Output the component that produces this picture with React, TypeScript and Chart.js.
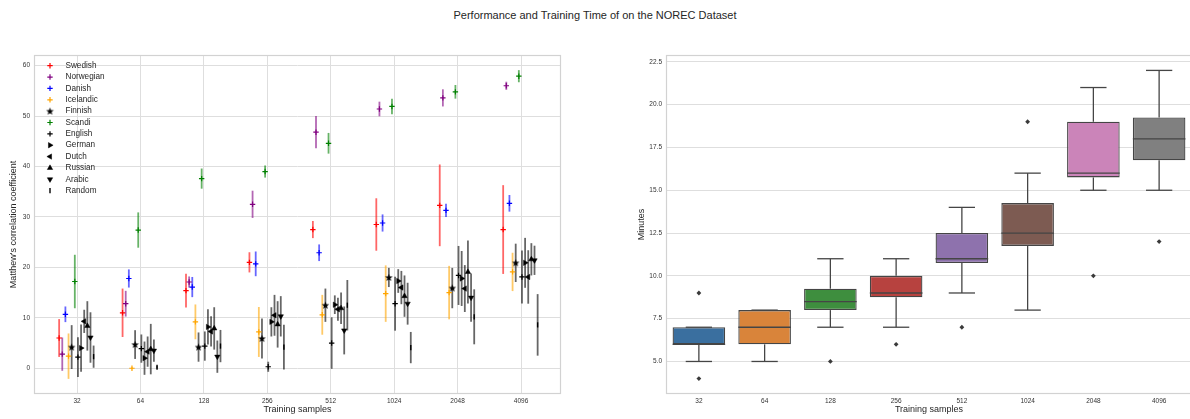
import React, { useEffect, useRef } from 'react';
import { Chart, registerables } from 'chart.js';
import { drawPoint } from 'chart.js/helpers';

Chart.register(...registerables);

// ---------- data ----------
const samples = ['32', '64', '128', '256', '512', '1024', '2048', '4096'];
const sampleLog2 = [5, 6, 7, 8, 9, 10, 11, 12];
const mccTicks = [0, 10, 20, 30, 40, 50, 60];
const minuteTicks = [5, 7.5, 10, 12.5, 15, 17.5, 20, 22.5];

const swedishMcc = [6.0, 11.0, 15.4, 21.0, 27.5, 28.5, 32.3, 27.5];
const swedishErr = [3.75, 4.8, 3.35, 2.0, 1.7, 5.2, 8.1, 8.8];
const norwegianMcc = [2.8, 12.8, 17.1, 32.5, 46.8, 51.4, 53.6, 56.0];
const norwegianErr = [3.3, 2.55, 1.1, 2.7, 3.2, 1.45, 1.7, 0.8];
const danishMcc = [10.7, 17.8, 16.1, 20.7, 22.9, 28.8, 31.3, 32.7];
const danishErr = [1.55, 1.8, 2.0, 2.45, 1.65, 1.7, 1.3, 1.65];
const icelandicMcc = [2.4, 0.0, 9.2, 7.2, 10.6, 14.8, 15.0, 19.1];
const icelandicErr = [4.5, 0.2, 3.45, 4.95, 3.95, 5.6, 5.3, 3.8];
const finnishMcc = [4.2, 4.7, 4.2, 5.9, 12.5, 18.0, 15.9, 20.9];
const finnishErr = [4.35, 2.85, 2.9, 3.95, 3.3, 1.9, 4.0, 3.8];
const scandiMcc = [17.2, 27.4, 37.6, 39.0, 44.6, 51.9, 54.8, 57.9];
const scandiErr = [5.3, 3.5, 2.0, 1.2, 2.05, 1.55, 1.35, 1.2];
const englishMcc = [2.2, 3.9, 4.4, 0.3, 5.0, 12.8, 18.4, 18.1];
const englishErr = [3.95, 2.8, 2.9, 1.0, 5.1, 5.35, 5.85, 5.25];
const germanMcc = [4.0, 2.0, 8.2, 9.2, 12.6, 17.3, 17.8, 20.9];
const germanErr = [4.7, 3.3, 3.5, 2.9, 1.85, 2.35, 5.45, 4.95];
const dutchMcc = [9.3, 3.3, 7.3, 10.5, 11.7, 16.0, 15.8, 18.1];
const dutchErr = [2.3, 3.0, 3.0, 4.05, 2.3, 3.3, 4.65, 5.3];
const russianMcc = [8.4, 3.8, 7.9, 8.7, 11.9, 14.3, 19.1, 21.6];
const russianErr = [4.9, 5.0, 4.2, 4.6, 3.1, 4.1, 6.25, 3.2];
const arabicMcc = [6.1, 3.5, 2.3, 10.3, 7.5, 12.8, 14.0, 21.4];
const arabicErr = [5.0, 2.2, 3.2, 4.0, 4.75, 4.15, 4.8, 2.9];
const randomMcc = [2.3, 0.2, 4.4, 4.2, 12.5, 4.1, 10.2, 8.6];
const randomErr = [2.2, 0.3, 3.2, 4.45, 5.0, 3.1, 5.45, 6.1];

const boxQ1 = [6, 6, 8, 8.75, 10.75, 11.75, 15.75, 16.75];
const boxQ3 = [7, 8, 9.25, 10, 12.5, 14.25, 19, 19.25];
const boxMedian = [6, 7, 8.5, 9, 11, 12.5, 16, 18];
const whiskerLow = [5, 5, 7, 7, 9, 8, 15, 15];
const whiskerHigh = [7, 8, 11, 11, 14, 16, 21, 22];
const outlierSample = ['32', '32', '128', '256', '512', '1024', '2048', '4096'];
const outlierMinutes = [9, 4, 5, 6, 7, 19, 10, 12];
const boxColors = ['#3a6f9f', '#d9843a', '#3e8e3e', '#b7423f', '#8e72ad', '#7d5b52', '#cb84b9', '#808080'];

const FONT = "'Liberation Sans', Arial, Helvetica, sans-serif";
const DODGE = 0.0494;
const GRID = '#dedede';
const FRAME = '#d2d2d2';

function makeStar(): HTMLCanvasElement {
  const c = document.createElement('canvas');
  c.width = 9;
  c.height = 9;
  const g = c.getContext('2d')!;
  g.fillStyle = '#000';
  g.beginPath();
  for (let k = 0; k < 10; k++) {
    const r = k % 2 === 0 ? 4.0 : 1.7;
    const a = -Math.PI / 2 + (k * Math.PI) / 5;
    const px = 4.5 + r * Math.cos(a);
    const py = 4.8 + r * Math.sin(a);
    if (k === 0) g.moveTo(px, py);
    else g.lineTo(px, py);
  }
  g.closePath();
  g.fill();
  return c;
}

const errorBarPlugin = {
  id: 'errorBars',
  beforeDatasetsDraw(chart: any) {
    const { ctx } = chart;
    const ys = chart.scales.y;
    chart.data.datasets.forEach((ds: any, i: number) => {
      const meta = chart.getDatasetMeta(i);
      ctx.save();
      ctx.strokeStyle = ds.pointBorderColor;
      ctx.globalAlpha = 0.6;
      ctx.lineWidth = 1.8;
      meta.data.forEach((pt: any, j: number) => {
        const m = ds.data[j].y;
        const e = ds.errors[j];
        ctx.beginPath();
        ctx.moveTo(pt.x, ys.getPixelForValue(m - e));
        ctx.lineTo(pt.x, ys.getPixelForValue(m + e));
        ctx.stroke();
      });
      ctx.restore();
    });
  },
};

const framePlugin = {
  id: 'frame',
  beforeDatasetsDraw(chart: any) {
    const { ctx, chartArea: a } = chart;
    ctx.save();
    ctx.strokeStyle = FRAME;
    ctx.lineWidth = 1.2;
    ctx.strokeRect(a.left + 0.5, a.top + 0.5, a.width - 1, a.height - 1);
    ctx.restore();
  },
};

const innerLegendPlugin = {
  id: 'innerLegend',
  afterDatasetsDraw(chart: any) {
    const { ctx, chartArea } = chart;
    chart.data.datasets.forEach((ds: any, i: number) => {
      const y = chartArea.top + 10.7 + i * 11.36;
      const x = chartArea.left + 16;
      ctx.save();
      ctx.fillStyle = ds.pointBackgroundColor;
      ctx.strokeStyle = ds.pointBorderColor;
      ctx.lineWidth = ds.pointBorderWidth;
      drawPoint(ctx, {
        pointStyle: ds.pointStyle,
        rotation: ds.pointRotation,
        radius: ds.pointRadius,
        borderWidth: ds.pointBorderWidth,
      } as any, x, y);
      ctx.fillStyle = '#262626';
      ctx.font = `8.2px ${FONT}`;
      ctx.textBaseline = 'middle';
      ctx.textAlign = 'left';
      ctx.fillText(ds.label, chartArea.left + 31.5, y);
      ctx.restore();
    });
  },
};

const boxPlugin = {
  id: 'boxParts',
  afterDatasetsDraw(chart: any) {
    const { ctx } = chart;
    const ys = chart.scales.y;
    const meta = chart.getDatasetMeta(0);
    ctx.save();
    ctx.strokeStyle = '#454545';
    ctx.lineWidth = 1.3;
    meta.data.forEach((bar: any, i: number) => {
      const x = bar.x;
      const w = bar.width;
      const line = (x1: number, y1: number, x2: number, y2: number) => {
        ctx.beginPath();
        ctx.moveTo(x1, y1);
        ctx.lineTo(x2, y2);
        ctx.stroke();
      };
      const q1 = ys.getPixelForValue(boxQ1[i]);
      const q3 = ys.getPixelForValue(boxQ3[i]);
      const lo = ys.getPixelForValue(whiskerLow[i]);
      const hi = ys.getPixelForValue(whiskerHigh[i]);
      const md = ys.getPixelForValue(boxMedian[i]);
      if (hi < q3) line(x, q3, x, hi);
      if (lo > q1) line(x, q1, x, lo);
      line(x - w / 4, hi, x + w / 4, hi);
      line(x - w / 4, lo, x + w / 4, lo);
      line(x - w / 2, md, x + w / 2, md);
    });
    ctx.restore();
  },
};

export default function App() {
  const leftRef = useRef<HTMLCanvasElement>(null);
  const rightRef = useRef<HTMLCanvasElement>(null);

  useEffect(() => {
    Chart.defaults.font.family = FONT;
    Chart.defaults.color = '#333';
    const star = makeStar();

    const series = [
      { name: 'Swedish', mean: swedishMcc, err: swedishErr, color: 'red', style: 'cross', rot: 0, r: 2.7, bw: 1.2 },
      { name: 'Norwegian', mean: norwegianMcc, err: norwegianErr, color: 'purple', style: 'cross', rot: 0, r: 2.7, bw: 1.2 },
      { name: 'Danish', mean: danishMcc, err: danishErr, color: 'blue', style: 'cross', rot: 0, r: 2.7, bw: 1.2 },
      { name: 'Icelandic', mean: icelandicMcc, err: icelandicErr, color: 'orange', style: 'cross', rot: 0, r: 2.7, bw: 1.2 },
      { name: 'Finnish', mean: finnishMcc, err: finnishErr, color: 'black', style: star, rot: 0, r: 4, bw: 0 },
      { name: 'Scandi', mean: scandiMcc, err: scandiErr, color: 'green', style: 'cross', rot: 0, r: 2.7, bw: 1.2 },
      { name: 'English', mean: englishMcc, err: englishErr, color: 'black', style: 'cross', rot: 0, r: 2.7, bw: 1.2 },
      { name: 'German', mean: germanMcc, err: germanErr, color: 'black', style: 'triangle', rot: 90, r: 3.1, bw: 0.5 },
      { name: 'Dutch', mean: dutchMcc, err: dutchErr, color: 'black', style: 'triangle', rot: 270, r: 3.1, bw: 0.5 },
      { name: 'Russian', mean: russianMcc, err: russianErr, color: 'black', style: 'triangle', rot: 0, r: 3.1, bw: 0.5 },
      { name: 'Arabic', mean: arabicMcc, err: arabicErr, color: 'black', style: 'triangle', rot: 180, r: 3.1, bw: 0.5 },
      { name: 'Random', mean: randomMcc, err: randomErr, color: 'black', style: 'line', rot: 90, r: 2.6, bw: 1.4 },
    ];

    const left = new Chart(leftRef.current!, {
      type: 'scatter',
      data: {
        datasets: series.map((s, i) => ({
          label: s.name,
          data: s.mean.map((m, j) => ({ x: sampleLog2[j] + (i - 5.5) * DODGE - 0.01, y: m })),
          errors: s.err,
          pointStyle: s.style as any,
          pointRotation: s.rot,
          pointRadius: s.r,
          pointHoverRadius: s.r,
          pointBackgroundColor: s.color,
          pointBorderColor: s.color,
          pointBorderWidth: s.bw,
          showLine: false,
        })) as any,
      },
      options: {
        animation: false,
        responsive: false,
        devicePixelRatio: 1,
        events: [],
        layout: { padding: { top: 55, right: 19, left: 0, bottom: 0 } },
        plugins: { legend: { display: false }, tooltip: { enabled: false } },
        scales: {
          x: {
            type: 'linear',
            min: 4.322,
            max: 12.63,
            afterBuildTicks: (a: any) => {
              a.ticks = sampleLog2.map((v) => ({ value: v }));
            },
            ticks: {
              callback: (_v: any, idx: number) => samples[idx],
              font: { size: 6.5 },
              padding: 3,
              maxRotation: 0,
              autoSkip: false,
              color: '#333',
            },
            grid: { color: GRID, drawTicks: false, lineWidth: 1 },
            border: { display: false },
            title: { display: true, text: 'Training samples', font: { size: 9 }, color: '#262626', padding: { top: 0, bottom: 4.3 } },
            afterFit: (s: any) => {
              s.height = 25;
            },
          },
          y: {
            type: 'linear',
            min: -5.1,
            max: 62.1,
            afterBuildTicks: (a: any) => {
              a.ticks = mccTicks.map((v) => ({ value: v }));
            },
            ticks: { font: { size: 6.5 }, padding: 4, color: '#333' },
            grid: { color: GRID, drawTicks: false, lineWidth: 1 },
            border: { display: false },
            title: {
              display: true,
              text: "Matthew's correlation coefficient",
              font: { size: 9 },
              color: '#262626',
              padding: { top: 8.6, bottom: 0 },
            },
            afterFit: (s: any) => {
              s.width = 34;
            },
          },
        },
      } as any,
      plugins: [framePlugin, errorBarPlugin, innerLegendPlugin],
    });

    const right = new Chart(rightRef.current!, {
      type: 'bar',
      data: {
        labels: samples,
        datasets: [
          {
            type: 'bar',
            data: boxQ1.map((q, i) => [q, boxQ3[i]]) as any,
            backgroundColor: boxColors,
            borderColor: '#454545',
            borderWidth: 1.3,
            borderSkipped: false,
            barPercentage: 0.8,
            categoryPercentage: 1.0,
          },
          {
            type: 'line',
            data: outlierSample.map((s, i) => ({ x: s, y: outlierMinutes[i] })) as any,
            showLine: false,
            pointStyle: 'rectRot',
            pointRadius: 2.4,
            pointBackgroundColor: '#3a3a3a',
            pointBorderColor: '#3a3a3a',
            pointBorderWidth: 0,
          },
        ],
      },
      options: {
        animation: false,
        responsive: false,
        devicePixelRatio: 1,
        events: [],
        layout: { padding: { top: 55, right: 8, left: 0, bottom: 0 } },
        plugins: { legend: { display: false }, tooltip: { enabled: false } },
        scales: {
          x: {
            type: 'category',
            offset: true,
            ticks: { font: { size: 6.5 }, padding: 3, maxRotation: 0, autoSkip: false, color: '#333' },
            grid: { display: false, drawTicks: false },
            border: { display: false },
            title: { display: true, text: 'Training samples', font: { size: 9 }, color: '#262626', padding: { top: 0, bottom: 4.3 } },
            afterFit: (s: any) => {
              s.height = 25;
            },
          },
          y: {
            type: 'linear',
            min: 3.1,
            max: 22.9,
            afterBuildTicks: (a: any) => {
              a.ticks = minuteTicks.map((v) => ({ value: v }));
            },
            ticks: { font: { size: 6.5 }, padding: 4, color: '#333', callback: (v: any) => Number(v).toFixed(1) },
            grid: { color: GRID, drawTicks: false, lineWidth: 1 },
            border: { display: false },
            title: { display: true, text: 'Minutes', font: { size: 9 }, color: '#262626', padding: { top: 36.3, bottom: 0 } },
            afterFit: (s: any) => {
              s.width = 66;
            },
          },
        },
      } as any,
      plugins: [framePlugin, boxPlugin],
    });

    return () => {
      left.destroy();
      right.destroy();
    };
  }, []);

  return (
    <div
      style={{
        position: 'fixed',
        left: 0,
        top: 0,
        width: 1190,
        height: 419,
        overflow: 'hidden',
        background: '#fff',
      }}
    >
      <div
        style={{
          position: 'absolute',
          left: 0,
          top: 9,
          width: 1190,
          textAlign: 'center',
          fontFamily: FONT,
          fontSize: 11,
          lineHeight: '12px',
          color: '#262626',
        }}
      >
        Performance and Training Time of on the NOREC Dataset
      </div>
      <canvas ref={leftRef} width={580} height={419} style={{ position: 'absolute', left: 0, top: 0 }} />
      <canvas ref={rightRef} width={600} height={419} style={{ position: 'absolute', left: 600, top: 0 }} />
    </div>
  );
}
